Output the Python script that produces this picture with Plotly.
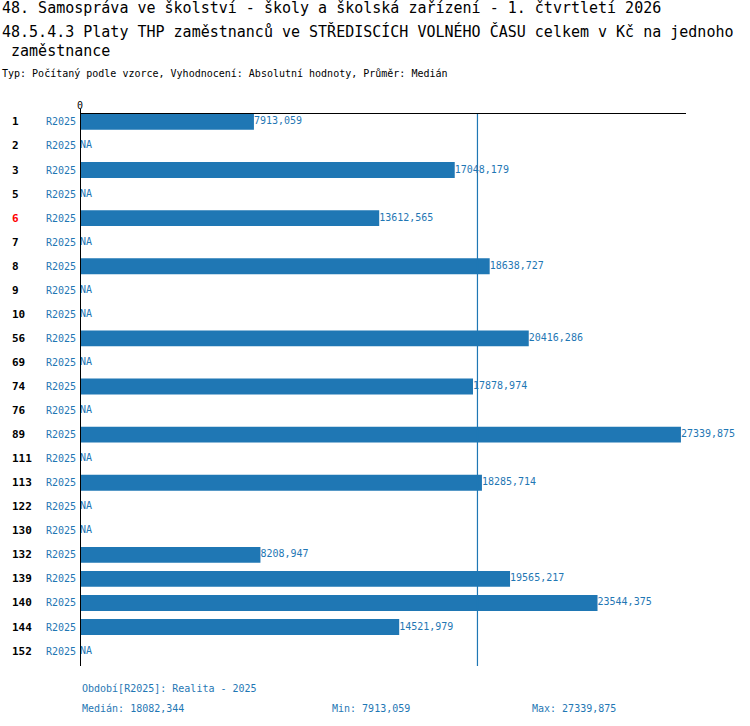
import plotly.graph_objects as go

# data
categories = ["1", "2", "3", "5", "6", "7", "8", "9", "10", "56", "69", "74",
              "76", "89", "111", "113", "122", "130", "132", "139", "140", "144", "152"]
values = [7913.059, None, 17048.179, None, 13612.565, None, 18638.727, None, None,
          20416.286, None, 17878.974, None, 27339.875, None, 18285.714, None, None,
          8208.947, 19565.217, 23544.375, 14521.979, None]
period = "R2025"
highlight = "6"
median_val = 18082.344
min_val = 7913.059
max_val = 27339.875

title_lines = [
    "48. Samospráva ve školství - školy a školská zařízení - 1. čtvrtletí 2026",
    "48.5.4.3 Platy THP zaměstnanců ve STŘEDISCÍCH VOLNÉHO ČASU celkem v Kč na jednoho",
    " zaměstnance",
]
subtitle = "Typ: Počítaný podle vzorce, Vyhodnocení: Absolutní hodnoty, Průměr: Medián"
footer_period = "Období[R2025]: Realita - 2025"

BLUE = "#1f77b4"
MONO = "DejaVu Sans Mono"
W, H = 750, 726
L, R, T, B = 80, 686, 114, 666
Y_RANGE = [22.62, -0.33]


def px(x):
    return (x - L) / (R - L)


def py(y):
    return (B - y) / (B - T)


def fmt(v):
    return f"{v:.3f}".replace(".", ",")


rows = list(range(len(categories)))
bar_x = [v if v is not None else 0 for v in values]
labels = [fmt(v) if v is not None else "NA" for v in values]

fig = go.Figure()
fig.add_trace(go.Bar(
    x=bar_x, y=rows, orientation="h", width=0.66,
    marker=dict(color=BLUE, line=dict(width=0)),
    hoverinfo="skip", showlegend=False,
))
fig.add_trace(go.Scatter(
    x=bar_x, y=rows, mode="text", text=labels, textposition="middle right",
    textfont=dict(family=MONO, size=10, color=BLUE),
    hoverinfo="skip", showlegend=False, cliponaxis=False,
))
# median line, slightly above the top axis line as in the reference
fig.add_trace(go.Scatter(
    x=[median_val, median_val], y=[Y_RANGE[0], -0.55], mode="lines",
    line=dict(color=BLUE, width=1.2), hoverinfo="skip", showlegend=False,
    cliponaxis=False,
))

ann = []
for i, c in enumerate(categories):
    ann.append(dict(x=px(10), y=i, xref="paper", yref="y", text=f"<b>{c}</b>",
                    showarrow=False, xanchor="left", yanchor="middle",
                    font=dict(family=MONO, size=11,
                              color="red" if c == highlight else "black")))
    ann.append(dict(x=px(78), y=i, xref="paper", yref="y", text=period,
                    showarrow=False, xanchor="right", yanchor="middle",
                    font=dict(family=MONO, size=10, color=BLUE)))

for text, ypos in zip(title_lines, [8, 31, 51]):
    ann.append(dict(x=px(0), y=py(ypos), xref="paper", yref="paper", text=text,
                    showarrow=False, xanchor="left", yanchor="middle",
                    font=dict(family=MONO, size=15, color="black")))
ann.append(dict(x=px(0), y=py(73), xref="paper", yref="paper", text=subtitle,
                showarrow=False, xanchor="left", yanchor="middle",
                font=dict(family=MONO, size=10, color="black")))

footer = [
    (footer_period, 80, 688),
    ("Medián: " + fmt(median_val), 80, 708),
    ("Min: " + fmt(min_val), 330, 708),
    ("Max: " + fmt(max_val), 530, 708),
]
for text, xpos, ypos in footer:
    ann.append(dict(x=px(xpos), y=py(ypos), xref="paper", yref="paper", text=text,
                    showarrow=False, xanchor="left", yanchor="middle",
                    font=dict(family=MONO, size=10, color=BLUE)))

fig.update_layout(
    width=W, height=H,
    margin=dict(l=L, r=W - R, t=T, b=H - B, pad=0),
    plot_bgcolor="white", paper_bgcolor="white",
    bargap=0.34,
    annotations=ann,
    shapes=[
        dict(type="line", xref="x", yref="paper", x0=0, x1=0, y0=0, y1=py(109),
             line=dict(color="black", width=2)),
    ],
    xaxis=dict(
        side="top", range=[0, 27570], tickvals=[0], ticktext=["0"],
        tickfont=dict(family=MONO, size=10, color="black"), ticks="",
        showgrid=False, zeroline=False,
        showline=True, linecolor="black", linewidth=1,
    ),
    yaxis=dict(range=Y_RANGE, visible=False, showgrid=False, zeroline=False),
)

# drop the default body margin so the figure sits at the page corner
fig.write_html("out.html", config={"displayModeBar": False},
               post_script="document.body.style.margin = '0';")
